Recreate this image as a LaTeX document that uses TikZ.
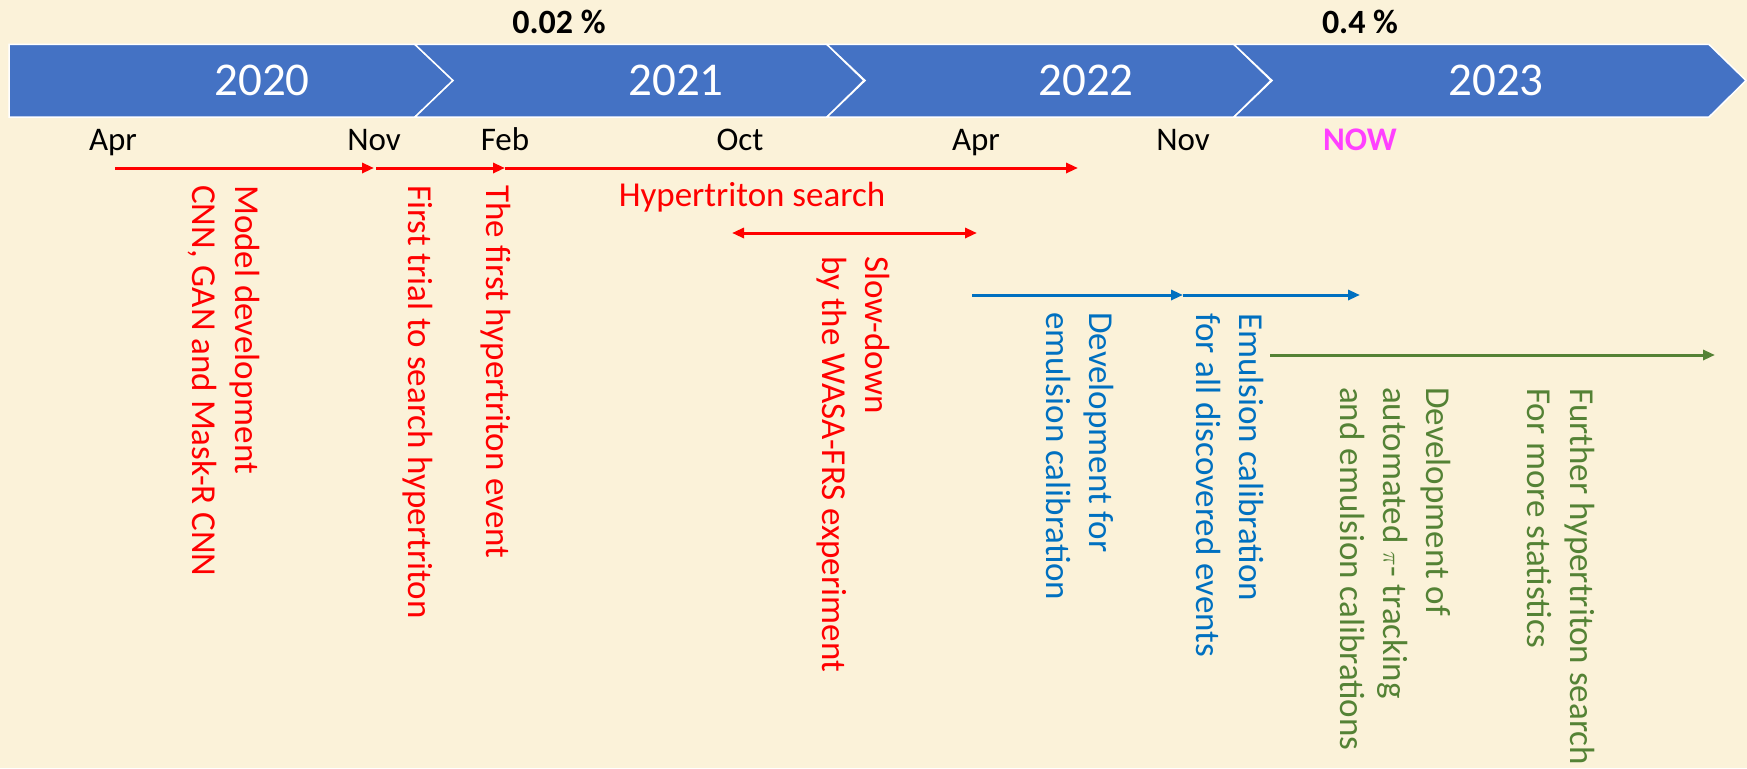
\documentclass[tikz,border=0pt]{standalone}
\usepackage{fontspec}
\setmainfont{Carlito}
\usetikzlibrary{arrows.meta}
\definecolor{parch}{RGB}{251,242,217}
\definecolor{bandblue}{RGB}{68,114,196}
\definecolor{calblue}{RGB}{0,112,192}
\definecolor{trkgreen}{RGB}{84,130,53}
\definecolor{nowpink}{RGB}{255,64,255}
\tikzset{
  yearlbl/.style={text=white, font=\fontsize{47}{56}\selectfont},
  monthlbl/.style={anchor=base, font=\fontsize{33}{39}\selectfont},
  pctlbl/.style={font=\bfseries\fontsize{34}{40}\selectfont},
  note/.style={rotate=-90, anchor=north west, inner sep=0pt, align=left,
    font=\fontsize{35}{43}\selectfont},
  tarrow/.style={-{Triangle[length=12pt,width=10pt]}, line width=3pt},
  twoway/.style={{Triangle[length=12pt,width=10pt]}-{Triangle[length=12pt,width=10pt]}, line width=3pt}
}

\begin{document}
\begin{tikzpicture}[x=1pt, y=-1pt]
    \useasboundingbox (0,0) rectangle (1747,768);
    \fill[parch] (0,0) rectangle (1747,768);

    % year band
    \filldraw[fill=bandblue, draw=white, line width=1.5pt]
      (9,44.5) -- (415,44.5) -- (453,80.5) -- (415,117) -- (9,117) -- cycle;
    \foreach \a/\b in {415/827, 827/1234, 1234/1709}
      \filldraw[fill=bandblue, draw=white, line width=1.5pt]
        (\a,44.5) -- (\b,44.5) -- (\b+37,80.5) -- (\b,117) -- (\a,117) -- (\a+38,80.5) -- cycle;

    \node[yearlbl] (y20) at (262,80.5) {2020};
    \node[yearlbl] (y21) at (676,80.5) {2021};
    \node[yearlbl] (y22) at (1086,80.5) {2022};
    \node[yearlbl] (y23) at (1496,80.5) {2023};

    \node[pctlbl] (pct21) at (559,22) {0.02 \%};
    \node[pctlbl] (pct23) at (1360,22) {0.4 \%};

    % months
    \node[monthlbl] (apr20) at (113,150) {Apr};
    \node[monthlbl] (nov20) at (374,150) {Nov};
    \node[monthlbl] (feb21) at (505,150) {Feb};
    \node[monthlbl] (oct21) at (740,150) {Oct};
    \node[monthlbl] (apr22) at (976,150) {Apr};
    \node[monthlbl] (nov22) at (1183,150) {Nov};
    \node[monthlbl, font=\bfseries\fontsize{33}{39}\selectfont, text=nowpink] (now) at (1360,150) {NOW};

    % search phases
    \coordinate (r0) at (115,168);
    \coordinate (r1) at (374,168);
    \coordinate (r2) at (376,168);
    \coordinate (r3) at (505,168);
    \coordinate (r4) at (1078,168);
    \draw[tarrow, red] (r0) -- (r1);
    \draw[tarrow, red] (r2) -- (r3);
    \draw[tarrow, red] (r3) -- (r4);
    \node[red, font=\fontsize{35}{43}\selectfont, anchor=base] (hsearch) at (752,206) {Hypertriton search};

    \coordinate (s0) at (732,233);
    \coordinate (s1) at (977,233);
    \draw[twoway, red] (s0) -- (s1);

    % calibration
    \coordinate (b0) at (972,295);
    \coordinate (b1) at (1183,295);
    \coordinate (b2) at (1360,295);
    \draw[tarrow, calblue] (b0) -- (b1);
    \draw[tarrow, calblue] (b1) -- (b2);

    \coordinate (g0) at (1270,355);
    \coordinate (g1) at (1715,355);
    \draw[tarrow, trkgreen] (g0) -- (g1);

    % vertical notes
    \node[note, red] (model) at (260,185) {Model development\\CNN, GAN and Mask-R CNN};
    \node[note, red] (trial) at (433,185) {First trial to search hypertriton};
    \node[note, red] (event) at (511,185) {The first hypertriton event};
    \node[note, red] (slow) at (890,256) {Slow-down\\by the WASA-FRS experiment};
    \node[note, calblue] (devcal) at (1114,312) {Development for\\emulsion calibration};
    \node[note, calblue] (allcal) at (1264,313) {Emulsion calibration\\for all discovered events};
    \node[note, trkgreen] (devtrk) at (1451,387) {Development of\\automated $\pi$- tracking\\and emulsion calibrations};
    \node[note, trkgreen] (further) at (1595,388) {Further hypertriton search\\For more statistics};
\end{tikzpicture}
\end{document}
